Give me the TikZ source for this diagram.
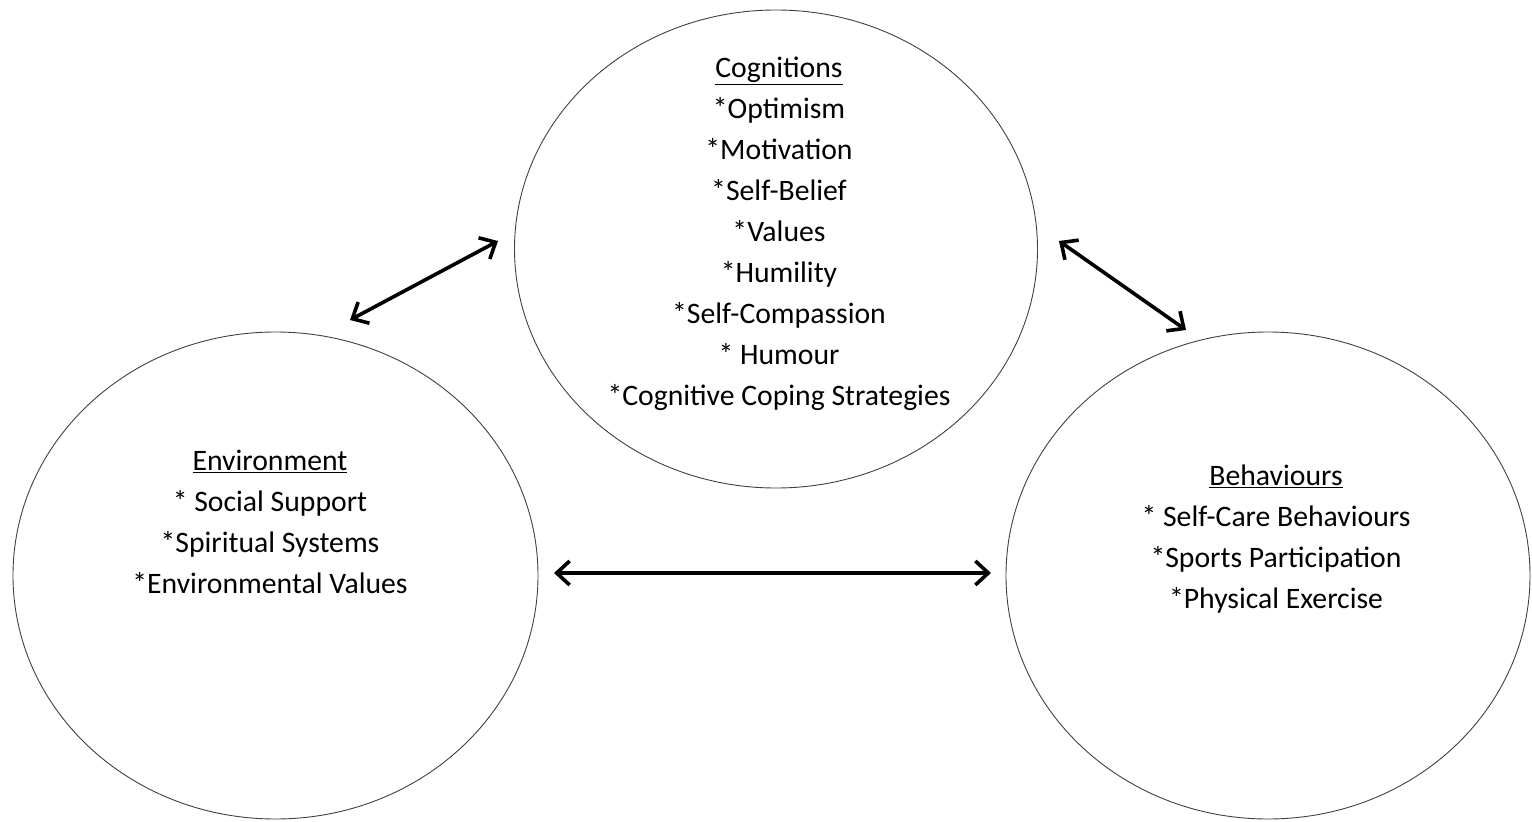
\documentclass[tikz,border=0pt]{standalone}
\usepackage{fontspec}
\setmainfont{Carlito}
\usetikzlibrary{shapes.geometric,arrows.meta}
\tikzset{
  circ/.style={ellipse, draw=black!75, line width=0.9pt, inner sep=0pt, outer sep=0pt},
  txt/.style={align=center, font=\fontsize{29.7}{41}\selectfont, inner sep=0pt, anchor=north},
  link/.style={line width=3.6pt, {Straight Barb[length=13pt,width=24pt]}-{Straight Barb[length=13pt,width=24pt]}}
}
\begin{document}
\begin{tikzpicture}[x=1pt,y=-1pt]
\useasboundingbox (0,0) rectangle (1532,822);
\node[circ, minimum width=523pt, minimum height=478pt] (cog) at (776,249) {};
\node[circ, minimum width=525pt, minimum height=487pt] (env) at (275.5,575.5) {};
\node[circ, minimum width=524pt, minimum height=487pt] (beh) at (1268,575.5) {};
\node[txt] (cogtxt) at (779,77-28.7) {\strut\underline{Cognitions}\\*Optimism\\*Motivation\\*Self-Belief\\*Values\\*Humility\\*Self-Compassion\\* Humour\\*Cognitive Coping Strategies};
\node[txt] (envtxt) at (270,470-28.7) {\strut\underline{Environment}\\* Social Support\\*Spiritual Systems\\*Environmental Values};
\node[txt] (behtxt) at (1276,485-28.7) {\strut\underline{Behaviours}\\* Self-Care Behaviours\\*Sports Participation\\*Physical Exercise};
\coordinate (ec1) at (350,320);
\coordinate (ce1) at (498,241);
\coordinate (cb1) at (1059,241);
\coordinate (bc1) at (1186,330);
\coordinate (eb1) at (554,573);
\coordinate (be1) at (991,573);
\draw[link] (ec1) -- (ce1);
\draw[link] (cb1) -- (bc1);
\draw[link] (eb1) -- (be1);
\end{tikzpicture}
\end{document}
